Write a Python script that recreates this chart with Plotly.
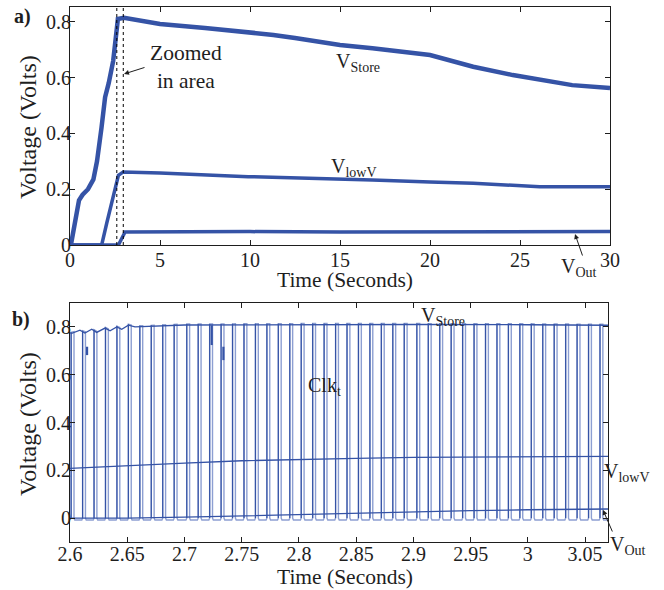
import numpy as np
import plotly.graph_objects as go

# ---------------- panel a) : full 30 s record ----------------
t_store_a = [0.05, 0.5, 0.7, 1.0, 1.3, 1.5, 1.75, 1.95, 2.15, 2.4, 2.6, 2.66, 3.0, 5.0, 7.5,
             10.0, 11.3, 12.5, 15.0, 16.8, 19.0, 20.0, 22.4, 24.6, 27.9, 30.0]
v_store_a = [0.0, 0.16, 0.18, 0.20, 0.235, 0.30, 0.42, 0.53, 0.58, 0.66, 0.775, 0.81, 0.814, 0.792, 0.778,
             0.763, 0.753, 0.742, 0.717, 0.705, 0.687, 0.681, 0.639, 0.609, 0.573, 0.563]

t_lowv_a = [0.05, 1.76, 2.04, 2.41, 2.69, 2.96, 5.0, 9.9, 15.0, 16.8, 20.0, 22.4, 26.1, 30.0]
v_lowv_a = [0.0, 0.0, 0.078, 0.17, 0.25, 0.262, 0.258, 0.245, 0.238, 0.233, 0.226, 0.221, 0.209, 0.209]

t_out_a = [0.05, 2.69, 3.06, 5.0, 10.0, 15.0, 20.0, 25.0, 30.0]
v_out_a = [0.0, 0.0, 0.047, 0.048, 0.048, 0.047, 0.048, 0.048, 0.048]

zoom_window = [2.6, 2.96]

xticks_a = [0, 5, 10, 15, 20, 25, 30]
xlabels_a = ["0", "5", "10", "15", "20", "25", "30"]
yticks_a = [0, 0.2, 0.4, 0.6, 0.8]
ylabels_a = ["0", "0.2", "0.4", "0.6", "0.8"]

# ---------------- panel b) : zoomed 2.6 - 3.07 s ----------------
t_store_b = [2.6, 2.6015, 2.6087, 2.613, 2.619, 2.6233, 2.6306, 2.635, 2.6408, 2.6452, 2.651, 2.6568,
             2.70, 2.80, 2.90, 3.00, 3.07]
v_store_b = [0.775, 0.773, 0.786, 0.774, 0.790, 0.777, 0.795, 0.784, 0.800, 0.790, 0.807, 0.800,
             0.808, 0.810, 0.810, 0.809, 0.807]

t_lowv_b = [2.6, 2.65, 2.7, 2.75, 2.8, 2.85, 2.9, 2.95, 3.0, 3.07]
v_lowv_b = [0.208, 0.220, 0.230, 0.240, 0.246, 0.250, 0.254, 0.256, 0.257, 0.258]

t_out_b = [2.6, 2.65, 2.7, 2.75, 2.8, 2.85, 2.9, 2.95, 3.0, 3.07]
v_out_b = [0.0, 0.0, 0.004, 0.010, 0.016, 0.022, 0.027, 0.031, 0.035, 0.038]

# rising edges of the clock Clk_t (s)
clk_rise = [2.601, 2.611, 2.621, 2.631, 2.641, 2.651, 2.661, 2.671, 2.681, 2.691,
            2.702, 2.712, 2.722, 2.732, 2.742, 2.752, 2.762, 2.772, 2.782, 2.792,
            2.802, 2.812, 2.822, 2.832, 2.842, 2.852, 2.862, 2.872, 2.882, 2.892,
            2.903, 2.913, 2.923, 2.933, 2.943, 2.953, 2.963, 2.973, 2.983, 2.993,
            3.003, 3.013, 3.023, 3.033, 3.043, 3.053, 3.063]
clk_high_width = 0.0025
clk_low_level = -0.008

# short glitches on the supply during the first pulses
glitch_t = [2.6149, 2.7238, 2.734]
glitch_top = [0.717, 0.807, 0.717]
glitch_bottom = [0.682, 0.724, 0.661]

xticks_b = [2.6, 2.65, 2.7, 2.75, 2.8, 2.85, 2.9, 2.95, 3.0, 3.05]
xlabels_b = ["2.6", "2.65", "2.7", "2.75", "2.8", "2.85", "2.9", "2.95", "3", "3.05"]
yticks_b = [0, 0.2, 0.4, 0.6, 0.8]
ylabels_b = ["0", "0.2", "0.4", "0.6", "0.8"]

# ---------------- styling ----------------
W, H = 664, 590
SERIF = "Liberation Serif, Times New Roman, serif"
BLUE = "#3553a6"
BLUE_LIGHT = "#8d9fd2"
INK = "#1e1e1e"


def px(x):
    return x / W


def py(y):
    return 1 - y / H


fig = go.Figure()

# panel a traces
fig.add_trace(go.Scatter(x=t_store_a, y=v_store_a, mode="lines",
                         line=dict(color=BLUE, width=4.5), xaxis="x", yaxis="y"))
fig.add_trace(go.Scatter(x=t_lowv_a, y=v_lowv_a, mode="lines",
                         line=dict(color=BLUE, width=3.5), xaxis="x", yaxis="y"))
fig.add_trace(go.Scatter(x=t_out_a, y=v_out_a, mode="lines",
                         line=dict(color=BLUE, width=3.5), xaxis="x", yaxis="y"))


# panel b: build clock waveform from edge times
def store_level(t):
    return float(np.interp(t, t_store_b, v_store_b)) + 0.004


clk_x, clk_y = [2.6, clk_rise[0]], [clk_low_level, 0.0]
edge_x, edge_y = [], []
for i, r in enumerate(clk_rise):
    f = r + clk_high_width
    clk_x += [r, f, f]
    clk_y += [store_level(r), store_level(f), 0.0]
    edge_x += [r, r, None]
    edge_y += [0.0, store_level(r), None]
    nxt = clk_rise[i + 1] if i + 1 < len(clk_rise) else 3.07 + 0.001
    clk_x += [f + 0.0007, nxt - 0.0007, nxt]
    clk_y += [clk_low_level, clk_low_level, 0.0]

g_x, g_y = [], []
for t, top, bot in zip(glitch_t, glitch_top, glitch_bottom):
    g_x += [t, t, None]
    g_y += [top, bot, None]

fig.add_trace(go.Scatter(x=clk_x, y=clk_y, mode="lines",
                         line=dict(color=BLUE_LIGHT, width=1.4), xaxis="x2", yaxis="y2"))
fig.add_trace(go.Scatter(x=g_x, y=g_y, mode="lines",
                         line=dict(color=BLUE, width=2.2), xaxis="x2", yaxis="y2"))
fig.add_trace(go.Scatter(x=t_store_b, y=v_store_b, mode="lines",
                         line=dict(color=BLUE, width=1.3), xaxis="x2", yaxis="y2"))
fig.add_trace(go.Scatter(x=t_lowv_b, y=v_lowv_b, mode="lines",
                         line=dict(color=BLUE, width=1.3), xaxis="x2", yaxis="y2"))
fig.add_trace(go.Scatter(x=t_out_b, y=v_out_b, mode="lines",
                         line=dict(color=BLUE, width=1.3), xaxis="x2", yaxis="y2"))
fig.add_trace(go.Scatter(x=edge_x, y=edge_y, mode="lines",
                         line=dict(color=BLUE, width=1.2), xaxis="x2", yaxis="y2"))


def axis(**kw):
    d = dict(showline=True, linecolor=INK, linewidth=1, mirror="ticks",
             ticks="inside", ticklen=5, tickcolor=INK, tickwidth=1,
             showgrid=False, zeroline=False, fixedrange=True, automargin=False,
             tickmode="array", tickfont=dict(family=SERIF, size=20, color=INK))
    d.update(kw)
    return d


fig.update_layout(
    template="none",
    width=W, height=H, autosize=False,
    margin=dict(l=0, r=0, t=0, b=0, pad=0),
    paper_bgcolor="white", plot_bgcolor="white",
    showlegend=False,
    font=dict(family=SERIF, size=20, color=INK),
    xaxis=axis(domain=[px(70), px(610)], range=[0, 30], anchor="y",
               tickvals=xticks_a, ticktext=xlabels_a, ticklabelstandoff=-3),
    yaxis=axis(domain=[py(245), py(7)], range=[0, 0.853], anchor="x",
               tickvals=yticks_a, ticktext=ylabels_a, ticklabelstandoff=-6),
    xaxis2=axis(domain=[px(70), px(608)], range=[2.6, 3.07], anchor="y2",
                tickvals=xticks_b, ticktext=xlabels_b, ticklabelstandoff=-6),
    yaxis2=axis(domain=[py(542), py(303)], range=[-0.1, 0.9], anchor="x2",
                tickvals=yticks_b, ticktext=ylabels_b, ticklabelstandoff=-6),
)

# zoom window markers on panel a
for xv in zoom_window:
    fig.add_shape(type="line", xref="x", yref="y domain", x0=xv, x1=xv, y0=0, y1=1,
                  line=dict(color="black", width=1, dash="dot"))


def label(xp, yp, text, size=20, **kw):
    d = dict(x=px(xp), y=py(yp), xref="paper", yref="paper", text=text,
             xanchor="center", yanchor="middle",
             showarrow=False, font=dict(family=SERIF, size=size, color=INK))
    d.update(kw)
    return d


def pointer(hx, hy, tx, ty):
    return dict(x=px(hx), y=py(hy), xref="paper", yref="paper", text="",
                showarrow=True, ax=tx - hx, ay=ty - hy, axref="pixel", ayref="pixel",
                arrowhead=2, arrowsize=1, arrowwidth=1, arrowcolor=INK)


ann = [
    label(22, 16, "<b>a)</b>"),
    label(21, 319, "<b>b)</b>"),
    label(28, 127, "Voltage (Volts)", size=24, textangle=-90),
    label(28, 424, "Voltage (Volts)", size=24, textangle=-90),
    label(345, 280, "Time (Seconds)", size=21.5),
    label(345, 577, "Time (Seconds)", size=21.5),
    label(186, 67, "Zoomed<br>in area", size=21.5),
    pointer(124, 74, 146, 67),
    label(334, 62, "V<sub>Store</sub>", xanchor="left"),
    label(329, 168, "V<sub>lowV</sub>", xanchor="left"),
    label(559, 268, "V<sub>Out</sub>", xanchor="left"),
    pointer(575, 234, 583, 257),
    label(419, 316, "V<sub>Store</sub>", xanchor="left"),
    label(306, 386, "Clk<sub>t</sub>", xanchor="left"),
    label(602, 472, "V<sub>lowV</sub>", xanchor="left"),
    label(608, 545, "V<sub>Out</sub>", xanchor="left"),
    pointer(603, 510, 613, 533),
]

fig.update_layout(annotations=ann)

fig.write_html("out.html")
